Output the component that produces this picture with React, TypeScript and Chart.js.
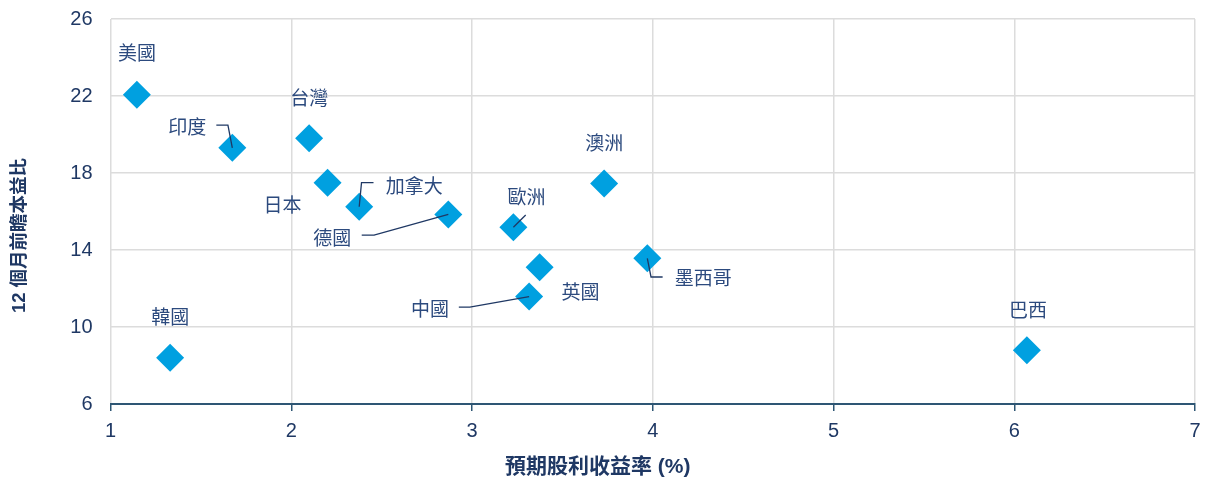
import React, { useEffect, useRef } from "react";
import { Chart, registerables } from "chart.js";

Chart.register(...registerables);

const countries = ["美國", "印度", "台灣", "日本", "加拿大", "德國", "歐洲", "英國", "中國", "澳洲", "墨西哥", "巴西", "韓國"];
const dividendYield = [1.146, 1.674, 2.099, 2.201, 2.376, 2.869, 3.229, 3.374, 3.316, 3.731, 3.97, 6.07, 1.33];
const forwardPE = [22.07, 19.31, 19.8, 17.5, 16.25, 15.85, 15.18, 13.1, 11.58, 17.46, 13.57, 8.79, 8.4];
const xTicks = [1, 2, 3, 4, 5, 6, 7];
const yTicks = [6, 10, 14, 18, 22, 26];
const xTitle = "預期股利收益率 (%)";
const yTitle = "12 個月前瞻本益比";

// label placement (pixel offsets of text centre from marker centre) – styling only
const labelOffsets: [number, number][] = [
  [0, -42], [-45, -21], [0, -41], [-45, 22], [55, -21], [-116, 23], [13, -31],
  [41, 24], [-99, 12], [0, -41], [56, 20], [1, -41], [0, -41],
];
// leader lines, relative to marker centre – styling only
const leaders: ([number, number][] | null)[] = [
  null,
  [[-16, -22.7], [-4.4, -22.7], [0, 0]],
  null,
  null,
  [[14.3, -24], [2.3, -24], [0, 0]],
  [[-86.6, 20.7], [-74.3, 20.7], [0, 0]],
  [[12.3, -12.3], [0, 0]],
  null,
  [[-70.3, 10.6], [-59.3, 10.6], [0, 0]],
  null,
  [[0, 0], [3.7, 18.7], [15.3, 18.7]],
  null,
  null,
];

const NAVY = "#1f3864";
const LABEL = "#2c4a7e";
const CJK = '"Noto Sans CJK TC", "Liberation Sans", sans-serif';

const labelPlugin = {
  id: "labelPlugin",
  afterDatasetsDraw(chart: any) {
    const ctx = chart.ctx;
    const meta = chart.getDatasetMeta(0);
    ctx.save();
    ctx.strokeStyle = NAVY;
    ctx.lineWidth = 1.3;
    meta.data.forEach((pt: any, i: number) => {
      const l = leaders[i];
      if (!l) return;
      ctx.beginPath();
      l.forEach(([dx, dy], j) => {
        if (j === 0) ctx.moveTo(pt.x + dx, pt.y + dy);
        else ctx.lineTo(pt.x + dx, pt.y + dy);
      });
      ctx.stroke();
    });
    ctx.fillStyle = LABEL;
    ctx.font = `19px ${CJK}`;
    ctx.textAlign = "center";
    ctx.textBaseline = "middle";
    meta.data.forEach((pt: any, i: number) => {
      const [dx, dy] = labelOffsets[i];
      ctx.fillText(countries[i], pt.x + dx, pt.y + dy);
    });
    const ca = chart.chartArea;
    ctx.fillStyle = NAVY;
    ctx.font = `bold 21px "Liberation Sans", "Noto Sans CJK TC", sans-serif`;
    ctx.fillText(xTitle, (ca.left + ca.right) / 2 - 55, 467);
    ctx.save();
    ctx.translate(20, (ca.top + ca.bottom) / 2 + 24);
    ctx.rotate(-Math.PI / 2);
    ctx.font = `bold 18.5px "Liberation Sans", "Noto Sans CJK TC", sans-serif`;
    ctx.fillText(yTitle, 0, 0);
    ctx.restore();
    ctx.restore();
  },
};

export default function App() {
  const ref = useRef<HTMLCanvasElement>(null);
  useEffect(() => {
    if (!ref.current) return;
    const chart = new Chart(ref.current, {
      type: "scatter",
      data: {
        datasets: [
          {
            data: dividendYield.map((x, i) => ({ x, y: forwardPE[i] })),
            backgroundColor: "#00a0e0",
            borderColor: "#00a0e0",
            borderWidth: 0,
            pointStyle: "rectRot",
            pointRadius: 14,
            pointHoverRadius: 14,
          },
        ],
      },
      options: {
        animation: false,
        responsive: false,
        maintainAspectRatio: false,
        events: [],
        layout: { padding: { left: 0, right: 12, top: 19, bottom: 0 } },
        plugins: { legend: { display: false }, tooltip: { enabled: false } },
        scales: {
          x: {
            type: "linear",
            min: 1,
            max: 7,
            afterBuildTicks: (s: any) => {
              s.ticks = xTicks.map((v) => ({ value: v }));
            },
            afterFit: (s: any) => {
              s.height = 74;
              s.paddingLeft = 0;
              s.paddingRight = 0;
            },
            grid: {
              color: "#dcdcdc",
              lineWidth: 1.5,
              tickColor: "#2e5674",
              tickLength: 7,
              drawTicks: true,
            },
            border: { color: "#2e5674", width: 2 },
            ticks: {
              color: NAVY,
              font: { family: '"Liberation Sans", sans-serif', size: 20 },
              padding: 8,
              maxRotation: 0,
            },
          },
          y: {
            type: "linear",
            min: 6,
            max: 26,
            afterBuildTicks: (s: any) => {
              s.ticks = yTicks.map((v) => ({ value: v }));
            },
            afterFit: (s: any) => {
              s.width = 110.5;
              s.paddingTop = 0;
              s.paddingBottom = 0;
            },
            grid: { color: "#dcdcdc", lineWidth: 1.5, drawTicks: false },
            border: { display: false },
            ticks: {
              color: NAVY,
              font: { family: '"Liberation Sans", sans-serif', size: 20 },
              padding: 18,
            },
          },
        },
      },
      plugins: [labelPlugin],
    });
    return () => chart.destroy();
  }, []);
  return (
    <div style={{ position: "fixed", left: 0, top: 0, width: 1209, height: 478, background: "#fff" }}>
      <canvas ref={ref} width={1209} height={478} style={{ width: 1209, height: 478 }} />
    </div>
  );
}
